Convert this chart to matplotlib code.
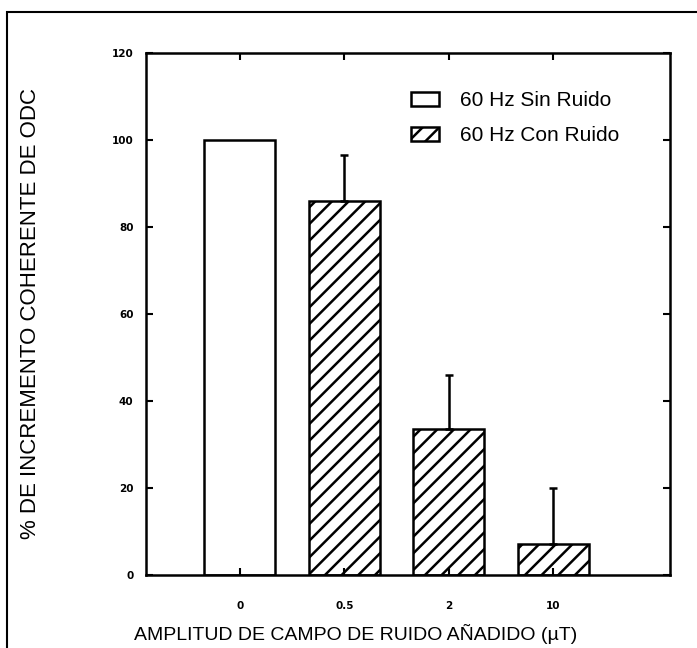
import numpy as np
import matplotlib
matplotlib.use("Agg")
import matplotlib.pyplot as plt
from matplotlib.patches import Rectangle

"""Data read from the figure"""

categories = ["0", "0.5", "2", "10"]
valores = [100, 86, 33.5, 7.2]
error_sup = [0, 10.5, 12.5, 12.8]
rellenos = ["", "//", "//", "//"]
y_ticks = [0, 20, 40, 60, 80, 100, 120]
leyenda = ["60 Hz Sin Ruido", "60 Hz Con Ruido"]

plt.rcParams['font.family'] = ['Liberation Sans', 'DejaVu Sans']
plt.rcParams['hatch.linewidth'] = 1.8

fig = plt.figure(figsize=(6.97, 6.48), dpi=100)
ax = fig.add_axes([0.2095, 0.1127, 0.752, 0.806])

x = np.arange(len(categories))
barras = ax.bar(x, valores, width=0.68, color='white', edgecolor='black',
                linewidth=1.8)
for b, h in zip(barras, rellenos):
    b.set_hatch(h)

# only the upper half of the error bars is drawn
for xi, v, e in zip(x, valores, error_sup):
    if e > 0:
        ax.errorbar(xi, v, yerr=[[0], [e]], fmt='none', ecolor='black',
                    elinewidth=1.8, capsize=3, capthick=1.8)

ax.set_xlim(-0.9, 4.12)
ax.set_ylim(0, 120)
ax.set_xticks(x)
ax.set_xticklabels(categories)
ax.set_yticks(y_ticks)
ax.tick_params(direction='in', length=5, width=1.5, top=True, right=True,
               labelsize=7.5)
ax.tick_params(axis='x', pad=19)
ax.tick_params(axis='y', pad=9)
for lab in ax.get_xticklabels() + ax.get_yticklabels():
    lab.set_fontweight('bold')
    lab.set_family('DejaVu Sans')
for s in ax.spines.values():
    s.set_linewidth(1.8)

ax.set_ylabel('% DE INCREMENTO COHERENTE DE ODC', fontsize=16)
ax.yaxis.set_label_coords(-0.2, 0.5)
ax.set_xlabel('AMPLITUD DE CAMPO DE RUIDO AÑADIDO (\u00b5T)', fontsize=14)
ax.xaxis.set_label_coords(0.4, -0.093)

h1 = Rectangle((0, 0), 1, 1, facecolor='white', edgecolor='black', lw=1.8)
h2 = Rectangle((0, 0), 1, 1, facecolor='white', edgecolor='black', lw=1.8,
               hatch='//')
ax.legend([h1, h2], leyenda, loc='upper left', bbox_to_anchor=(0.47, 0.962),
          frameon=False, fontsize=15, handlelength=1.35, handleheight=0.67,
          handletextpad=1.0, labelspacing=0.75)

# frame around the whole picture
fig.patches.append(Rectangle((0.01, -0.01), 1.0, 0.9915, transform=fig.transFigure,
                             fill=False, edgecolor='black', linewidth=1.5))

plt.savefig('out.png', dpi=100)
